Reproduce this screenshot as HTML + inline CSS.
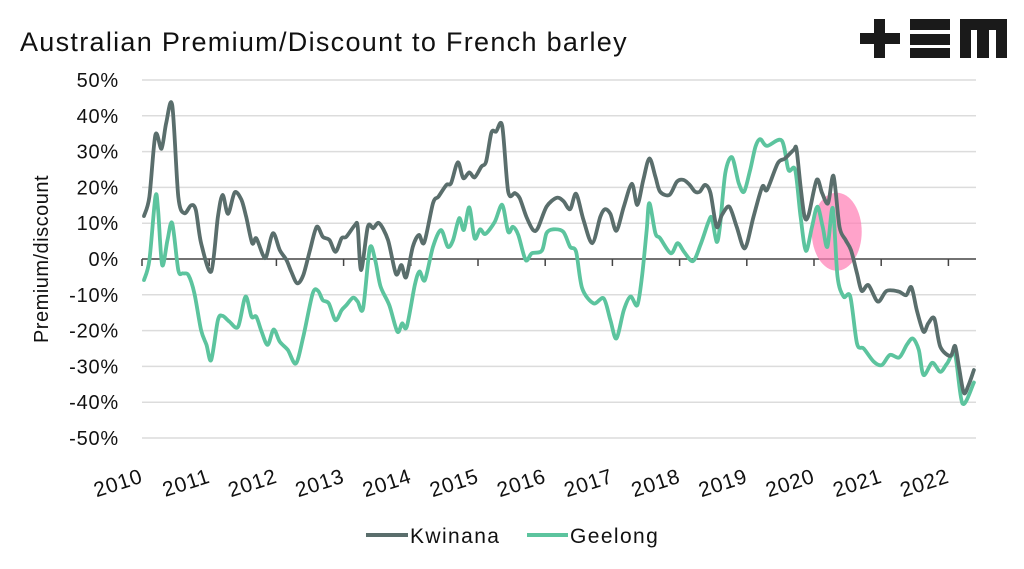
<!DOCTYPE html>
<html><head><meta charset="utf-8"><style>
body{margin:0;background:#fff;}
svg{display:block;font-family:"Liberation Sans",sans-serif;}
</style></head><body>
<svg id="chart" width="1024" height="569" viewBox="0 0 1024 569">
<text x="20" y="51" font-size="27" letter-spacing="1.3" fill="#111">Australian Premium/Discount to French barley</text>
<g fill="#1a1a1a">
<rect x="860" y="33" width="40" height="11"/><rect x="874" y="19" width="11" height="39"/>
<rect x="910" y="19" width="40" height="11"/><rect x="910" y="34" width="40" height="11"/><rect x="910" y="48" width="40" height="10"/>
<path d="M960 19H1007V58H996V30H989V58H977V30H971V58H960Z"/>
</g>
<g id="grid"></g>
<g id="yticks"></g>
<g id="xaxis"></g>
<text transform="translate(48,259) rotate(-90)" text-anchor="middle" font-size="20" letter-spacing="0.5" fill="#111">Premium/discount</text>
<ellipse cx="836.7" cy="231.7" rx="25" ry="39" fill="#ff7fb6" opacity="0.72"/>
<g id="series"></g>
<g>
<line x1="366" y1="535" x2="408" y2="535" stroke="#5a6e6c" stroke-width="4"/>
<text x="410" y="543" font-size="21" letter-spacing="1.4" fill="#111">Kwinana</text>
<line x1="527" y1="535" x2="568" y2="535" stroke="#5cc49e" stroke-width="4"/>
<text x="570" y="543" font-size="21" letter-spacing="1.4" fill="#111">Geelong</text>
</g>
</svg>
<script>
const yTicks=[50,40,30,20,10,0,-10,-20,-30,-40,-50];
const xYears=[2010,2011,2012,2013,2014,2015,2016,2017,2018,2019,2020,2021,2022];
const kwT=[2010.03,2010.11,2010.2,2010.29,2010.36,2010.45,2010.54,2010.63,2010.73,2010.8,2010.88,2011.03,2011.13,2011.2,2011.28,2011.38,2011.48,2011.55,2011.64,2011.7,2011.8,2011.85,2011.95,2012.05,2012.15,2012.22,2012.31,2012.4,2012.5,2012.6,2012.69,2012.79,2012.88,2012.97,2013.04,2013.17,2013.21,2013.26,2013.36,2013.44,2013.53,2013.66,2013.78,2013.86,2013.93,2014.03,2014.12,2014.2,2014.33,2014.41,2014.53,2014.6,2014.7,2014.78,2014.87,2014.95,2015.05,2015.12,2015.2,2015.27,2015.36,2015.45,2015.55,2015.62,2015.72,2015.82,2015.89,2016.02,2016.17,2016.27,2016.37,2016.46,2016.57,2016.7,2016.82,2016.89,2016.97,2017.06,2017.17,2017.29,2017.37,2017.46,2017.55,2017.64,2017.71,2017.85,2017.96,2018.06,2018.15,2018.23,2018.3,2018.38,2018.46,2018.55,2018.63,2018.74,2018.85,2018.97,2019.1,2019.23,2019.3,2019.46,2019.57,2019.7,2019.74,2019.8,2019.86,2019.92,2020.04,2020.12,2020.21,2020.29,2020.38,2020.47,2020.55,2020.64,2020.71,2020.81,2020.95,2021.08,2021.26,2021.37,2021.45,2021.53,2021.63,2021.7,2021.79,2021.88,2022.03,2022.1,2022.16,2022.23,2022.3,2022.38];
const kwV=[12,17.4,34.7,30.8,38,43,17.4,12.8,15,13.7,4.4,-3.5,11.8,17.9,12.6,18.6,16.5,11.8,4.4,5.8,1.1,0.7,7.2,2.5,-0.3,-3.5,-6.8,-4.5,2.5,9,6.2,5.3,2,5.8,6.2,9.5,9,-3.1,9,8.6,10,5.3,-4.2,-1.7,-5.1,3.4,6.7,4.6,15.6,17.4,20.7,21.2,27,22.6,24.2,22.8,25.8,27.2,35.3,35.6,37.2,18.8,18.4,17,11.8,8.1,8.6,14.6,17.1,16.2,13.9,18.2,10.9,4.4,11.8,13.9,12.6,7.9,14.6,21,15.1,22.1,28.1,23,18.8,17.9,21.6,22.1,20.7,18.8,18.8,20.7,18.4,9,12.3,14.6,9,3,11.8,20.2,19.3,26.7,28.1,30.5,30.7,20.2,11.8,12.3,22.1,18.4,15.6,23.2,9,5.3,2.5,-4,-8.9,-7.3,-11.9,-8.9,-9.1,-10.1,-7.9,-14.3,-20.3,-18,-16.6,-24.5,-27.1,-24.3,-30.6,-37.4,-35.2,-31];
const geT=[2010.03,2010.11,2010.2,2010.24,2010.3,2010.38,2010.45,2010.54,2010.61,2010.69,2010.78,2010.88,2010.96,2011.03,2011.13,2011.2,2011.3,2011.43,2011.54,2011.63,2011.7,2011.78,2011.87,2011.96,2012.05,2012.17,2012.29,2012.4,2012.54,2012.62,2012.69,2012.78,2012.88,2012.97,2013.04,2013.14,2013.21,2013.29,2013.39,2013.47,2013.55,2013.68,2013.8,2013.87,2013.94,2014.06,2014.13,2014.21,2014.33,2014.45,2014.55,2014.63,2014.72,2014.79,2014.87,2014.95,2015.03,2015.11,2015.25,2015.36,2015.45,2015.52,2015.6,2015.71,2015.8,2015.95,2016.02,2016.12,2016.27,2016.37,2016.46,2016.55,2016.72,2016.87,2016.97,2017.06,2017.17,2017.27,2017.37,2017.44,2017.51,2017.55,2017.64,2017.71,2017.87,2017.97,2018.07,2018.2,2018.31,2018.43,2018.48,2018.55,2018.6,2018.68,2018.78,2018.88,2018.96,2019.05,2019.13,2019.2,2019.3,2019.52,2019.62,2019.72,2019.8,2019.88,2019.97,2020.05,2020.13,2020.2,2020.28,2020.35,2020.44,2020.54,2020.64,2020.74,2020.89,2021.01,2021.13,2021.27,2021.38,2021.47,2021.56,2021.63,2021.76,2021.88,2021.98,2022.1,2022.21,2022.38];
const geV=[-5.9,-0.3,17.4,13.7,-1.7,5.3,10,-3.1,-4,-4.5,-9.6,-19.9,-24,-28.2,-17.1,-15.9,-17.5,-18.9,-10.5,-16.1,-16.1,-20.3,-24,-19.7,-23.1,-25.4,-29.2,-21.7,-9.6,-8.9,-11.5,-12.4,-17.1,-14.3,-12.9,-10.8,-11.9,-13.8,3,-0.3,-7.7,-12.9,-20.3,-18,-18.9,-7.3,-3.5,-5.9,3.4,8.1,3.4,5.3,11.4,8.1,14.4,5.8,8.3,7,10.4,15.1,7.6,9,6.7,-0.3,1.6,2.3,7.2,8.3,7.6,3.4,2,-8.2,-12.4,-11,-17.1,-22.2,-14.3,-10.5,-12.9,-4.9,8.1,15.6,7.2,5.8,1.6,4.4,1.9,-0.6,3.9,10.4,11.4,4.8,9,24,28.4,21.2,18.8,24.9,31.4,33.5,31.6,33.1,24.9,24.9,11.8,2.3,9,14.6,9,3.4,14.2,-4.9,-10.5,-10.5,-23.6,-25,-28.7,-29.6,-26.8,-27.5,-24,-22.2,-25.4,-32.4,-29,-31.5,-29.2,-26.8,-40.4,-34.5];
const NS='http://www.w3.org/2000/svg';
const X0=142,XW=67.2,Y0=259,YS=3.58,XR=976;
function xs(t){return X0+(t-2010)*XW;}
function ys(v){return Y0-v*YS;}
const grid=document.getElementById('grid'),yt=document.getElementById('yticks'),xa=document.getElementById('xaxis'),ser=document.getElementById('series');
yTicks.forEach(v=>{
 if(v!==0){const l=document.createElementNS(NS,'line');
 l.setAttribute('x1',X0);l.setAttribute('x2',XR);l.setAttribute('y1',ys(v));l.setAttribute('y2',ys(v));
 l.setAttribute('stroke','#dcdcdc');l.setAttribute('stroke-width','1.5');
 
 
 grid.appendChild(l);}
 const t=document.createElementNS(NS,'text');
 t.setAttribute('x',119);t.setAttribute('y',ys(v)+7);t.setAttribute('text-anchor','end');t.setAttribute('font-size','20');t.setAttribute('letter-spacing','0.8');t.setAttribute('fill','#111');
 t.textContent=v+'%';
 
 
 yt.appendChild(t);
});
const ax=document.createElementNS(NS,'line');
ax.setAttribute('x1',X0);ax.setAttribute('x2',XR);ax.setAttribute('y1',Y0);ax.setAttribute('y2',Y0);ax.setAttribute('stroke','#444');ax.setAttribute('stroke-width','1.5');


xa.appendChild(ax);
xYears.forEach(y=>{
 const x=xs(y);
 const tk=document.createElementNS(NS,'line');
 tk.setAttribute('x1',x);tk.setAttribute('x2',x);tk.setAttribute('y1',Y0);tk.setAttribute('y2',Y0+7);tk.setAttribute('stroke','#444');tk.setAttribute('stroke-width','1.5');
 
 
 xa.appendChild(tk);
 const t=document.createElementNS(NS,'text');
 t.setAttribute('transform','translate('+(x+2)+',482) rotate(-18)');
 t.setAttribute('text-anchor','end');t.setAttribute('font-size','21');t.setAttribute('letter-spacing','0.8');t.setAttribute('fill','#111');
 t.textContent=y;
 
 
 xa.appendChild(t);
});
function line(T,V,c,name){
 const P=T.map((t,i)=>[xs(t),ys(V[i])]);
 let d='M'+P[0][0].toFixed(1)+' '+P[0][1].toFixed(1);
 for(let i=0;i<P.length-1;i++){
  const p0=P[Math.max(0,i-1)],p1=P[i],p2=P[i+1],p3=P[Math.min(P.length-1,i+2)];
  const k=0.15;
  d+='C'+(p1[0]+(p2[0]-p0[0])*k).toFixed(1)+' '+(p1[1]+(p2[1]-p0[1])*k).toFixed(1)+' '+(p2[0]-(p3[0]-p1[0])*k).toFixed(1)+' '+(p2[1]-(p3[1]-p1[1])*k).toFixed(1)+' '+p2[0].toFixed(1)+' '+p2[1].toFixed(1);
 }
 const p=document.createElementNS(NS,'path');
 p.setAttribute('d',d);
 p.setAttribute('fill','none');p.setAttribute('stroke',c);p.setAttribute('stroke-width','3.8');p.setAttribute('stroke-linejoin','round');p.setAttribute('stroke-linecap','round');
 
 
 ser.appendChild(p);
}
line(geT,geV,'#5cc49e','geelong-line');
line(kwT,kwV,'#5a6e6c','kwinana-line');
</script>
</body></html>
